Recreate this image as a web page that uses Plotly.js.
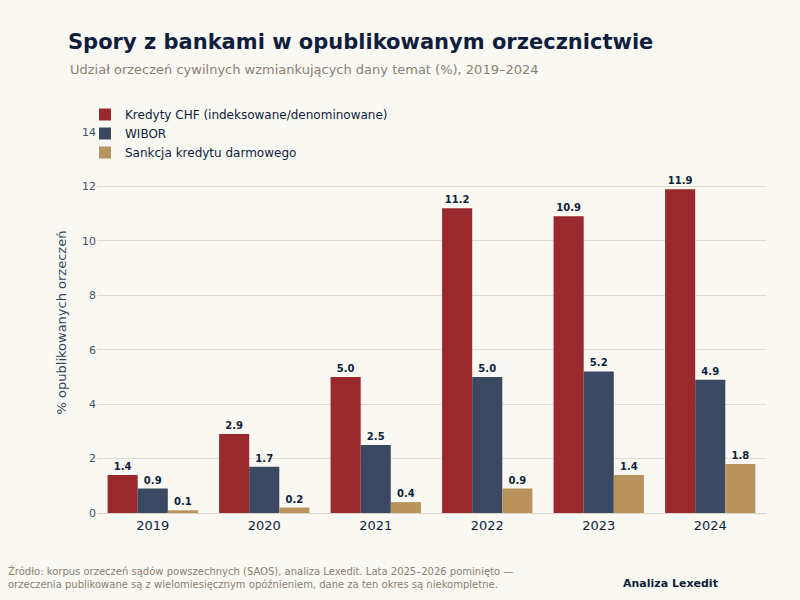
<!DOCTYPE html>
<html><head><meta charset="utf-8">
<script src="https://cdn.plot.ly/plotly-3.0.1.min.js"></script>
<style>body{margin:0;background:#f9f8f3}</style>
</head><body><div id="c" style="width:800px;height:600px"></div>
<script>
const years = ["2019","2020","2021","2022","2023","2024"];
const chf = [1.4,2.9,5.0,11.2,10.9,11.9];
const wibor = [0.9,1.7,2.5,5.0,5.2,4.9];
const sankcja = [0.1,0.2,0.4,0.9,1.4,1.8];
const names = ["Kredyty CHF (indeksowane/denominowane)","WIBOR","Sankcja kredytu darmowego"];
const colors = ["#9a292d","#3a4862","#b8935b"];
const series=[chf,wibor,sankcja];
const traces = series.map((v,i)=>({type:"bar",x:years,y:v,name:names[i],marker:{color:colors[i]},
  text:v.map(d=>d.toFixed(1)),textposition:"outside",cliponaxis:false,
  textfont:{family:"DejaVu Sans",size:10,color:"#0f1e3c",weight:"bold"}}));
const W=669,H=381,L=97,T=132;
const px=x=>(x-L)/W, py=y=>(T+H-y)/H;
Plotly.newPlot("c",traces,{
  width:800,height:600,paper_bgcolor:"#f9f8f3",plot_bgcolor:"#f9f8f3",
  font:{family:"DejaVu Sans",color:"#0f1e3c"},
  margin:{l:L,r:800-L-W,t:T,b:600-T-H},
  barmode:"group",bargap:0.19,bargroupgap:0,
  title:{text:"<b>Spory z bankami w opublikowanym orzecznictwie</b>",x:68/800,xanchor:"left",y:1-42/600,yanchor:"middle",font:{size:21,color:"#0f1e3c"}},
  xaxis:{tickfont:{size:13,color:"#0f1e3c"},showline:true,linecolor:"#ddd6c6",ticks:""},
  yaxis:{range:[0,14],dtick:2,gridcolor:"#e2dccd",zeroline:true,zerolinecolor:"#ddd6c6",tickfont:{size:11,color:"#4a5068"},
    title:{text:"% opublikowanych orzeczeń",font:{size:13,color:"#3a4462"},standoff:12}},
  legend:{x:px(85),y:py(100),xanchor:"left",yanchor:"top",bgcolor:"rgba(0,0,0,0)",font:{size:12,color:"#0f1e3c"}},
  showlegend:true,
  annotations:[
    {text:"Udział orzeczeń cywilnych wzmiankujących dany temat (%), 2019–2024",xref:"paper",yref:"paper",x:px(68),y:py(70),xanchor:"left",yanchor:"middle",showarrow:false,font:{size:13,color:"#8c8070"}},
    {text:"Źródło: korpus orzeczeń sądów powszechnych (SAOS), analiza Lexedit. Lata 2025–2026 pominięto —<br>orzeczenia publikowane są z wielomiesięcznym opóźnieniem, dane za ten okres są niekompletne.",
     xref:"paper",yref:"paper",x:px(6),y:py(577),xanchor:"left",yanchor:"middle",align:"left",showarrow:false,font:{size:10,color:"#8c8070"}},
    {text:"<b>Analiza Lexedit</b>",xref:"paper",yref:"paper",x:px(720),y:py(583),xanchor:"right",yanchor:"middle",showarrow:false,font:{size:11,color:"#0f1e3c"}}
  ]
},{staticPlot:true});
</script></body></html>
